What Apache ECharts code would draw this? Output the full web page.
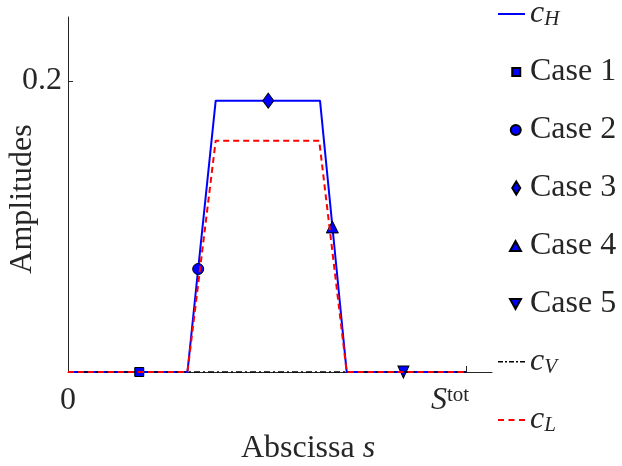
<!DOCTYPE html>
<html>
<head>
<meta charset="utf-8">
<script src="https://cdn.jsdelivr.net/npm/echarts@6/dist/echarts.min.js"></script>
<style>
html,body{margin:0;padding:0;background:#fff;}
#chart{width:622px;height:466px;}
</style>
</head>
<body>
<div id="chart"></div>
<script>
// ---- data (abscissa in units of S^tot) ----
var cH = [[0, 0], [0.30, 0], [0.371, 0.1865], [0.633, 0.1865], [0.70, 0], [1, 0]];
var cL = [[0, 0], [0.30, 0], [0.371, 0.159], [0.631, 0.159], [0.70, 0], [1, 0]];
var cV = [[0, 0], [1, 0]];
var case1 = [[0.179, 0]];
var case2 = [[0.327, 0.0708]];
var case3 = [[0.503, 0.1865]];
var case4 = [[0.664, 0.0997]];
var case5 = [[0.8425, 0]];
var xTickValues = [0, 1];
var xTickLabels = ['0', 'S^tot'];
var yTickValues = [0.2];
var yTickLabels = ['0.2'];

var FONT = 'Liberation Serif';
var FS = 32;
var TXT = '#262626';
var BLUE = '#0000ff';
var RED = '#ff0000';

// legend icon shapes (padded to a 14-unit high box so they keep their size)
var PAD = ' M0,0L0,0 M0,14L0,14';
var ICONS = {
  'c_H': 'path://M0,6H27V8H0Z' + PAD,
  'Case 1': 'path://M9.5,3H17.5V11H9.5Z' + PAD,
  'Case 2': 'path://M8.5,7A5,5 0 1 1 18.5,7A5,5 0 1 1 8.5,7Z' + PAD,
  'Case 3': 'path://M13.5,0.5L17.5,7L13.5,13.5L9.5,7Z' + PAD,
  'Case 4': 'path://M13.5,2L19,12L8,12Z' + PAD,
  'Case 5': 'path://M8,2L19,2L13.5,12Z' + PAD,
  'c_V': 'path://M0,6H5V7.5H0Z M7,6H9V7.5H7Z M11,6H16V7.5H11Z M18,6H20V7.5H18Z M22,6H27V7.5H22Z' + PAD,
  'c_L': 'path://M0,6H6V8H0Z M10.5,6H16.5V8H10.5Z M21,6H27V8H21Z' + PAD
};
var legendNames = ['c_H', 'Case 1', 'Case 2', 'Case 3', 'Case 4', 'Case 5', 'c_V', 'c_L'];

var chart = echarts.init(document.getElementById('chart'), null, {renderer: 'canvas'});

function caseSeries(name, data, symbol, size) {
  return {
    name: name, type: 'scatter', data: data, symbol: symbol, symbolSize: size,
    itemStyle: {color: BLUE, borderColor: '#000', borderWidth: 1, opacity: 1},
    z: 3
  };
}

var option = {
  animation: false,
  backgroundColor: '#fff',
  grid: {left: 68, right: 130, top: 17, bottom: 94, containLabel: false, outerBoundsMode: 'none'},
  xAxis: {
    type: 'value', min: 0, max: 1.065,
    name: 'Abscissa {i|s}', nameLocation: 'middle', nameGap: 61, nameMoveOverlap: false,
    nameTextStyle: {
      fontFamily: FONT, fontSize: FS, color: TXT, lineHeight: FS, padding: [0, 0, 0, 56],
      rich: {i: {fontFamily: FONT, fontSize: FS, fontStyle: 'italic', color: TXT, lineHeight: FS}}
    },
    splitLine: {show: false},
    axisLine: {lineStyle: {color: TXT, width: 1}},
    axisTick: {inside: true, length: 6, customValues: [1], lineStyle: {color: TXT}},
    axisLabel: {
      customValues: xTickValues, margin: 13,
      fontFamily: FONT, fontSize: FS, color: TXT, lineHeight: FS,
      formatter: function (v) {
        var idx = xTickValues.indexOf(v);
        if (idx < 0) return '';
        var lab = xTickLabels[idx];
        if (lab === 'S^tot') return '{i|S}{sup|tot}';
        return lab;
      },
      rich: {
        i: {fontFamily: FONT, fontSize: FS, fontStyle: 'italic', color: TXT, lineHeight: FS},
        sup: {fontFamily: FONT, fontSize: 21, color: TXT, lineHeight: 17, verticalAlign: 'top', padding: [0, 32, 15, 0]}
      }
    }
  },
  yAxis: {
    type: 'value', min: 0, max: 0.244,
    name: 'Amplitudes', nameLocation: 'middle', nameGap: 29, nameMoveOverlap: false,
    nameTextStyle: {fontFamily: FONT, fontSize: FS, color: TXT, lineHeight: FS, padding: [0, 9, 0, 0]},
    splitLine: {show: false},
    axisLine: {show: true, lineStyle: {color: TXT, width: 1}},
    axisTick: {show: true, inside: true, length: 5, customValues: yTickValues, lineStyle: {color: TXT}},
    axisLabel: {
      customValues: yTickValues, margin: 6,
      fontFamily: FONT, fontSize: FS, color: TXT,
      formatter: function (v) {
        var idx = yTickValues.indexOf(Math.round(v * 1000) / 1000);
        return idx < 0 ? '' : yTickLabels[idx];
      }
    }
  },
  legend: {
    orient: 'vertical', left: 498, top: -2, padding: 0,
    itemWidth: 27, itemHeight: 14, itemGap: 26,
    symbolKeepAspect: true,
    selectedMode: false,
    textStyle: {
      fontFamily: FONT, fontSize: FS, color: TXT, lineHeight: FS,
      rich: {
        c: {fontFamily: FONT, fontSize: FS, fontStyle: 'italic', color: TXT, lineHeight: FS, verticalAlign: 'middle'},
        s: {fontFamily: FONT, fontSize: 21, fontStyle: 'italic', color: TXT, lineHeight: 21, verticalAlign: 'bottom', padding: [9, 0, 0, 0]}
      }
    },
    formatter: function (name) {
      if (name.indexOf('c_') === 0) return '{c|c}{s|' + name.slice(2) + '}';
      return name;
    },
    data: legendNames.map(function (n) { return {name: n, icon: ICONS[n]}; })
  },
  series: [
    {name: 'c_H', type: 'line', data: cH, symbol: 'none', showSymbol: false,
     lineStyle: {color: BLUE, width: 2}, itemStyle: {color: BLUE}, z: 2},
    caseSeries('Case 1', case1, 'rect', 9),
    caseSeries('Case 2', case2, 'circle', 11),
    caseSeries('Case 3', case3, 'diamond', [11, 15]),
    caseSeries('Case 4', case4, 'triangle', 12),
    caseSeries('Case 5', case5, 'path://M0,0L10,0L5,12Z', [11, 12]),
    {name: 'c_V', type: 'line', data: cV, symbol: 'none', showSymbol: false,
     lineStyle: {color: '#000', width: 1.5, type: [6, 3, 2, 3]}, itemStyle: {color: '#000'}, z: 4},
    {name: 'c_L', type: 'line', data: cL, symbol: 'none', showSymbol: false,
     lineStyle: {color: RED, width: 2, type: [6, 4]}, itemStyle: {color: RED}, z: 5}
  ]
};
chart.setOption(option);
</script>
</body>
</html>
